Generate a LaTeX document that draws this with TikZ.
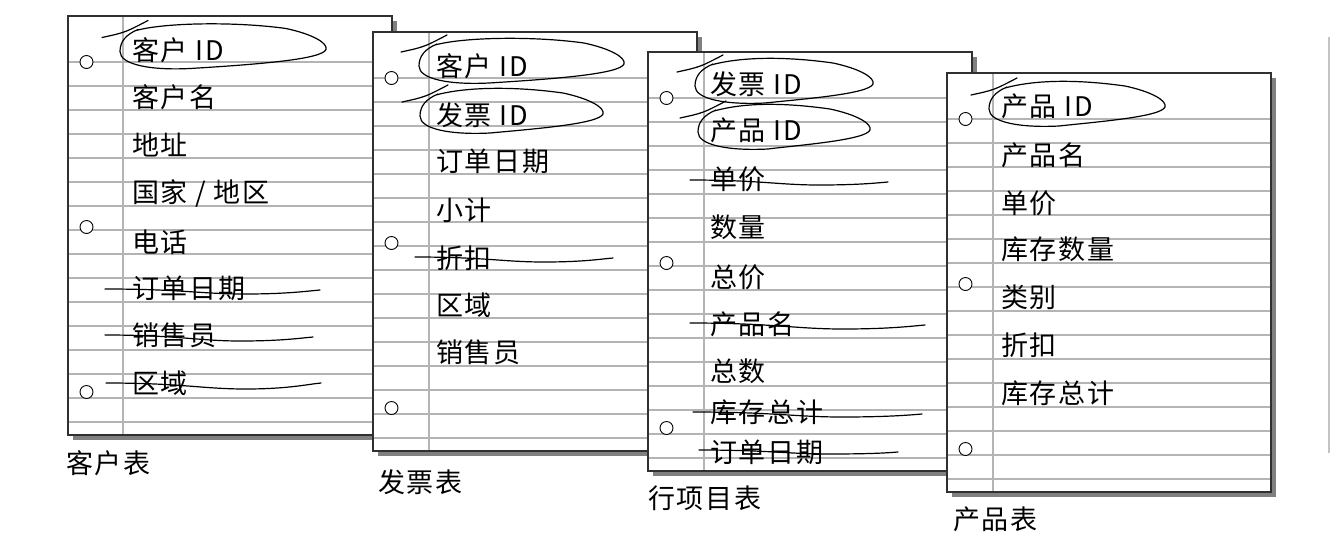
\documentclass[tikz,border=0pt]{standalone}
\usepackage{fontspec}
\setmainfont[LetterSpace=6]{Noto Sans CJK SC}
\definecolor{rulegray}{HTML}{B4B4B4}
\definecolor{shadowgray}{HTML}{808080}
\definecolor{edgegray}{HTML}{303030}
\definecolor{sidegray}{HTML}{C4C4C4}
\tikzset{
  rule/.style={draw=rulegray,line width=1.3pt},
  border/.style={draw=edgegray,line width=1.1pt},
  hole/.style={draw=black,fill=white,line width=0.9pt},
  hand/.style={draw=black,line width=1.2pt,line cap=round},
  field/.style={anchor=west,inner sep=0pt,font=\fontsize{27pt}{30pt}\selectfont},
  caption/.style={anchor=west,inner sep=0pt,font=\fontsize{27pt}{30pt}\selectfont},
}
\newcommand\sheetbox[3]{% left, top, margin offset
  \fill[shadowgray] ({#1+5},{#2+5}) rectangle ({#1+329},{#2+424});
  \fill[white] (#1,#2) rectangle ({#1+324},{#2+419});
  \foreach \k in {0,...,15} \draw[rule] (#1,{#2+46+24*\k}) -- ({#1+324},{#2+46+24*\k});
  \draw[rule] ({#1+#3},#2) -- ({#1+#3},{#2+419});
  \draw[border] (#1,#2) rectangle ({#1+324},{#2+419});
  \foreach \h in {46,211,376} \draw[hole] ({#1+18.5},{#2+\h}) circle[radius=6.5];
}
\newcommand\ringmark[3]{% L, R, cy
  \draw[hand] ({#1-18},{#3-10}) .. controls ({#1+5},{#3-15}) .. ({#1+28},{#3-27});
  \draw[hand] ({#1+16},{#3-17}) .. controls ({#1+45},{#3-25}) and ({#2-90},{#3-26}) .. ({#2-40},{#3-19})
     .. controls ({#2-12},{#3-13}) and ({#2+2},{#3-4}) .. ({#2},{#3+2})
     .. controls ({#2-4},{#3+12}) and ({#2-70},{#3+17}) .. ({#1+70},{#3+21})
     .. controls ({#1+30},{#3+23}) and ({#1},{#3+17}) .. ({#1},{#3+4})
     .. controls ({#1},{#3-6}) and ({#1+6},{#3-13}) .. ({#1+18},{#3-18});
}
\newcommand\strikeline[5]{% x1,y1,x2,y2,dip
  \draw[hand] (#1,#2) .. controls ({#1+0.35*(#3-#1)},{#2}) and ({#1+0.45*(#3-#1)},{#2+#5}) .. ({#1+0.65*(#3-#1)},{#2+#5})
     .. controls ({#1+0.85*(#3-#1)},{#2+#5}) and ({#3-12},{#4+1}) .. (#3,#4);
}
\begin{document}
\begin{tikzpicture}[x=1pt,y=-1pt]
\useasboundingbox[fill=white] (0,0) rectangle (1342,550);
% right side line
\draw[draw=sidegray,line width=2pt] (1329,37) coordinate (s1) -- (1329,453) coordinate (s2);

% ---------- sheet 1
\sheetbox{68}{16}{55}
\node[field] (a1) at (132,50) {客户 ID};
\node[field] (a2) at (132,97) {客户名};
\node[field] (a3) at (132,145) {地址};
\node[field] (a4) at (132,193) {国家 / 地区};
\node[field] (a5) at (132,242) {电话};
\node[field] (a6) at (132,288) {订单日期};
\node[field] (a7) at (132,335) {销售员};
\node[field] (a8) at (132,383) {区域};
\node[caption] (ca) at (66,463) {客户表};
\ringmark{120}{326}{47.5}
\strikeline{105}{289}{320}{290}{5}
\strikeline{105}{335}{313}{337}{6}
\strikeline{106}{383}{321}{383}{6}

% ---------- sheet 2
\sheetbox{373}{32}{56}
\node[field] (b1) at (436,66) {客户 ID};
\node[field] (b2) at (436,115) {发票 ID};
\node[field] (b3) at (436,161) {订单日期};
\node[field] (b4) at (436,210) {小计};
\node[field] (b5) at (436,258) {折扣};
\node[field] (b6) at (436,305) {区域};
\node[field] (b7) at (436,352) {销售员};
\node[caption] (cb) at (378,482) {发票表};
\ringmark{419}{624}{62}
\ringmark{420}{603}{112}
\strikeline{415}{257}{613}{258}{5}

% ---------- sheet 3
\sheetbox{648}{52}{56}
\node[field] (c1) at (710,84) {发票 ID};
\node[field] (c2) at (710,130) {产品 ID};
\node[field] (c3) at (710,179) {单价};
\node[field] (c4) at (710,227) {数量};
\node[field] (c5) at (710,277) {总价};
\node[field] (c6) at (710,324) {产品名};
\node[field] (c7) at (710,371) {总数};
\node[field] (c8) at (710,412) {库存总计};
\node[field] (c9) at (710,452) {订单日期};
\node[caption] (cc) at (648,498) {行项目表};
\ringmark{695}{873}{82}
\ringmark{698}{870}{128}
\strikeline{690}{180}{888}{182}{5}
\strikeline{690}{323}{925}{325}{6}
\strikeline{693}{412}{922}{414}{5}
\strikeline{699}{450}{898}{452}{4}

% ---------- sheet 4
\sheetbox{947}{73}{46}
\node[field] (d1) at (1001,106) {产品 ID};
\node[field] (d2) at (1001,155) {产品名};
\node[field] (d3) at (1001,203) {单价};
\node[field] (d4) at (1001,249) {库存数量};
\node[field] (d5) at (1001,297) {类别};
\node[field] (d6) at (1001,345) {折扣};
\node[field] (d7) at (1001,393) {库存总计};
\node[caption] (cd) at (953,519) {产品表};
\ringmark{989}{1165}{105}
\end{tikzpicture}
\end{document}
